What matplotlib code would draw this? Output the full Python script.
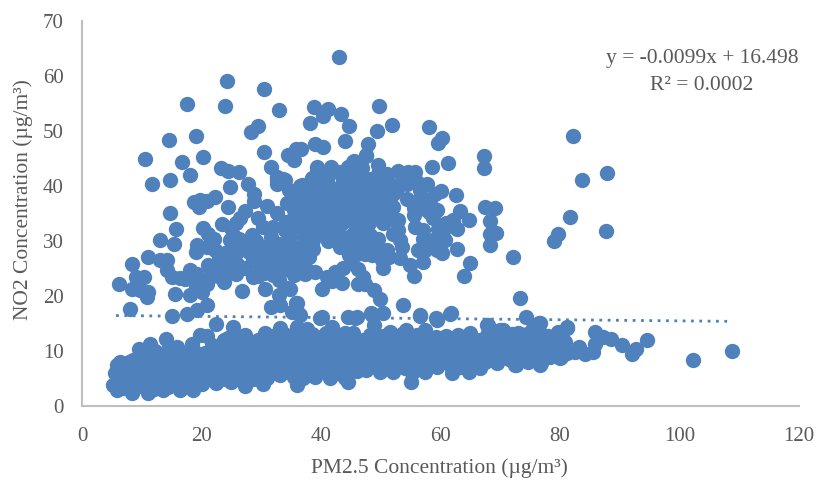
import matplotlib
matplotlib.use("Agg")
import matplotlib.pyplot as plt

plt.rcParams['font.family'] = ['Liberation Serif', 'DejaVu Serif']

# sparse points above the main band (left half)
upper_left = [
(43.07,63.46),(24.2,59.0),(30.5,57.6),(17.5,54.9),(23.9,54.5),(33.0,53.8),(38.8,54.4),(41.1,54.0),(40.4,52.8),(43.3,53.1),
(49.7,54.5),(38.2,51.5),(44.7,50.9),(51.9,51.1),(29.4,50.9),(28.3,49.8),(49.3,49.9),(19.0,49.1),(14.5,48.3),(44.1,48.1),
(47.8,47.7),(39.0,47.6),(40.3,47.1),(36.7,46.8),(35.8,46.7),(34.4,45.7),(35.4,44.7),(30.4,46.1),(10.5,44.9),(20.2,45.3),
(47.5,45.5),(45.6,44.5),(16.8,44.4),(31.6,43.5),(23.2,43.2),(24.5,42.7),(26.2,42.6),(39.4,43.5),(41.7,43.5),(44.6,43.2),
(49.6,43.8),(18.0,42.0),(52.9,42.7),(55.7,42.5),(54.6,42.5),(11.7,40.4),(14.7,41.0),(24.7,39.8),(27.7,40.3),(32.6,41.6),
(34.0,41.0),(32.6,40.4),(36.5,39.9),(37.9,40.1),(28.8,38.5),(28.8,37.3),(22.3,38.0),(20.9,37.3),(19.7,37.4),(18.7,37.1),
(19.6,36.2),(24.5,36.2),(27.2,35.5),(26.4,34.2),(25.7,33.2),(14.7,35.0),(23.4,33.0),(29.5,34.1),(15.7,32.2),(20.3,32.4),
(21.1,31.3),(22.1,30.4),(13.0,30.1),(15.4,29.4),(19.3,29.2),(19.1,28.0),(20.9,28.8),(22.3,28.3),(24.8,30.1),(26.2,30.4),
(28.4,31.0),(27.0,29.2),(25.9,28.0),(25.4,26.6),(28.7,26.6),(11.1,27.1),(13.1,26.6),(14.3,26.5),(14.3,24.7),(15.0,23.5),
(16.4,23.3),(18.1,24.7),(19.2,24.0),(21.1,25.6),(23.1,25.6),(21.7,24.1),(8.3,25.7),(9.1,23.5),(10.4,23.5),(6.2,22.2),
(8.3,21.3),(9.7,21.1),(11.1,20.7),(10.8,19.8),(8.1,17.6),(15.5,20.4),(18.1,20.1),(20.0,20.7),(20.9,18.3),(19.3,17.4),
(17.5,16.7),(15.0,16.4),(23.7,22.5),(26.7,20.9),(27.3,25.0),(28.7,23.5),(30.6,21.3),(34.3,21.5),(32.9,20.1),(31.7,18.0),
(33.1,18.3),(35.9,18.6),(35.1,17.1),(36.5,16.5),(32.6,35.0),(34.3,36.8),(32.0,32.5),(30.3,32.5),(31.7,30.7),(30.3,28.9),
(32.6,27.7),(34.8,30.7),(35.9,27.7),(37.1,32.5),(37.1,35.6),(35.4,35.6),(31.5,25.9),(33.7,24.7),(35.9,24.1),(37.6,24.7),
(29.8,25.3),(37.0,39.8),(32.6,41.0),(33.7,41.3),
]

# dense cloud and right-hand scatter above the main band
upper_right = [
(47.6,45.6),(45.4,44.4),(44.6,43.5),(39.4,42.5),(41.4,42.2),(49.6,42.2),(51.0,42.2),(58.6,43.5),(61.3,44.1),(67.3,45.5),
(67.3,43.3),(58.1,50.7),(60.3,48.8),(59.6,47.8),(82.2,49.1),(87.9,42.4),(83.6,41.0),(62.6,38.4),(43.7,41.3),(46.0,41.3),
(43.2,39.8),(45.4,39.8),(47.6,39.8),(48.2,40.4),(49.9,39.8),(51.5,40.4),(53.2,40.4),(56.0,40.7),(57.8,40.4),(56.6,39.2),
(57.1,37.7),(59.1,38.6),(60.0,39.1),(36.8,40.1),(38.2,40.1),(39.8,40.4),(40.4,38.6),(42.1,38.6),(43.7,38.0),(45.4,38.0),
(47.1,38.0),(48.8,38.0),(50.4,38.0),(52.1,38.6),(35.4,36.8),(37.0,36.8),(38.7,36.8),(40.4,36.5),(42.1,35.6),(43.7,36.2),
(45.4,36.2),(47.1,36.2),(48.8,36.2),(50.4,36.2),(52.1,36.2),(55.6,35.9),(55.6,34.7),(58.2,36.8),(59.4,35.6),(58.0,35.3),
(63.3,35.5),(64.7,33.8),(62.1,33.8),(62.7,32.2),(61.0,33.2),(59.6,32.2),(67.4,36.2),(69.2,35.9),(68.3,33.6),(68.3,31.3),
(69.3,31.5),(68.3,29.2),(55.7,32.5),(57.1,31.9),(57.1,30.4),(58.8,30.1),(60.8,30.1),(56.3,28.3),(57.1,26.2),(59.4,28.3),
(60.2,27.7),(62.8,28.6),(72.2,27.1),(64.9,25.9),(63.9,23.6),(52.9,33.8),(52.9,32.0),(53.2,30.1),(53.5,28.9),(53.2,26.8),
(54.9,25.6),(55.6,23.6),(50.3,33.2),(49.6,30.4),(49.0,28.9),(48.5,27.4),(51.0,28.3),(50.2,26.5),(50.4,25.0),(51.3,27.1),
(38.7,28.6),(36.5,27.1),(38.7,30.1),(36.5,28.9),(36.5,32.5),(38.2,32.0),(40.4,32.5),(42.1,31.9),(43.7,30.7),(45.4,31.3),
(47.1,32.0),(43.2,28.9),(44.9,28.9),(35.4,34.4),(37.6,34.4),(40.4,34.4),(42.6,34.4),(44.9,33.8),(47.1,34.4),(49.3,35.0),
(51.5,34.4),(35.4,28.9),(35.6,26.5),(35.4,23.8),(37.3,24.0),(39.0,24.4),(41.0,23.5),(41.8,22.6),(40.1,21.2),(43.5,22.4),
(42.3,24.4),(43.7,25.0),(45.1,25.9),(46.2,24.8),(47.1,23.5),(46.2,22.2),(47.4,22.2),(48.8,21.0),(49.8,19.5),(53.7,18.4),
(73.3,19.6),(34.8,21.3),(35.8,18.6),(36.2,16.8),(40.1,16.2),(44.6,16.2),(46.0,16.2),(48.4,16.8),(50.4,16.8),(56.5,16.5),
(59.2,15.9),(61.7,16.8),(74.3,16.2),(81.7,34.3),(79.7,31.2),(79.0,30.0),(87.7,31.7),(41.2,30.0),(46.8,29.8),
(47.3,27.6),(41.0,41.0),(54.4,37.6),(52.0,31.3),(33.8,29.5),(34.1,33.4),(31.0,36.4),
]

# extra points filling the dense cloud
cloud_fill = [
(34.6,39.2),(36.0,38.4),(38.0,38.5),(39.0,39.6),(41.2,40.0),(42.5,37.2),(44.5,37.0),(46.3,37.2),(48.0,37.0),(49.6,37.2),
(51.2,37.2),(52.8,39.5),(41.2,37.5),(39.3,37.8),(37.2,37.8),(35.8,33.0),(38.9,33.3),(39.7,35.4),(41.3,35.6),(41.3,33.3),
(43.5,33.2),(44.6,35.2),(46.0,35.3),(46.2,33.2),(48.0,33.2),(48.0,35.3),(50.2,35.1),(51.0,33.8),(34.0,32.0),(34.7,28.4),
(33.5,26.6),(37.2,30.8),(39.2,31.2),(41.0,31.3),(42.3,30.2),(44.6,30.0),(46.3,30.8),(48.2,31.0),(38.0,27.0),(37.0,25.8),
(34.3,26.0),(33.0,29.5),(32.0,29.3),(31.0,27.4),(29.4,27.7),(29.2,30.0),(27.9,27.9),(24.0,27.7),(23.0,27.0),(24.3,24.8),
(25.8,24.0),(26.0,25.8),(22.7,23.6),(20.2,22.9),(21.0,22.2),(19.0,21.8),(17.2,23.0),(18.8,23.2),(33.0,22.8),(31.9,23.7),
(30.5,24.1),(29.4,23.6),(24.9,32.3),(25.3,31.0),(56.2,37.2),(57.8,35.7),(58.7,34.2),(60.5,31.7),(58.3,29.0),(57.4,28.4),
(59.9,29.1),(46.0,27.6),(44.7,27.5),(46.5,42.6),(43.0,42.5),(41.0,42.0),(38.5,41.5),(50.2,41.3),(48.4,41.2),(54.4,40.4),
(45.0,42.3),(46.8,43.3),(53.8,41.6),
]

# upper and lower outline of the main band
band_edge = [
(6.4,8.0),(9.6,10.4),(11.4,11.3),(14.0,12.1),(15.96,10.7),(18.4,11.3),(19.7,12.9),(20.9,12.6),(22.5,14.9),(25.3,14.4),
(23.7,12.0),(27.3,12.9),(30.6,13.2),(33.1,14.1),(35.9,14.4),(37.6,14.0),(39.8,15.9),(41.8,14.4),(44.0,13.2),(5.8,2.9),
(8.3,2.4),(11.1,2.25),(13.6,2.85),(16.4,2.85),(18.6,2.85),(22.5,4.1),(25.0,4.4),(27.3,3.6),(30.3,3.9),(33.1,5.6),
(36.0,3.8),(39.0,5.3),(41.5,5.0),(44.0,5.0),(5.5,5.9),(5.8,7.4),(5.2,3.8),(45.7,15.9),(48.6,16.5),(48.8,14.7),
(45.4,13.2),(51.6,13.5),(54.3,13.8),(56.6,16.3),(57.4,13.8),(59.4,15.6),(61.6,16.7),(61.0,12.6),(63.0,12.9),(65.0,13.2),
(67.7,14.7),(70.0,13.8),(73.0,13.2),(76.5,15.0),(78.0,12.6),(79.7,13.5),(81.2,14.4),(44.6,4.4),(47.6,6.5),(49.9,6.2),
(52.1,6.2),(55.0,4.4),(57.4,6.2),(59.4,7.1),(61.9,5.9),(64.7,6.2),(66.6,6.8),(69.4,7.7),(72.5,7.4),(76.7,7.4),
(74.7,8.0),(80.0,8.6),(78.3,8.9),
]

# right-hand tail of the band
band_tail = [
(94.6,12.0),(92.8,10.4),(92.1,9.4),(90.4,11.0),(88.6,12.2),(87.2,12.5),(85.8,13.5),(85.8,11.3),(85.5,9.8),(84.2,9.4),
(83.2,10.7),(82.5,9.8),(81.1,14.2),(79.7,13.1),(76.6,15.0),(102.2,8.4),(108.8,10.0),(80.2,8.9),(76.9,7.7),(72.6,7.4),
(68.0,14.7),(70.5,13.8),(73.3,13.1),(77.8,12.5),
]

# interior of the band
band_fill = [
(7.2,4.2),(8.9,6.4),(7.8,8.0),(10.4,4.6),(10.8,7.5),(12.4,5.2),(13.0,8.6),(12.2,10.0),(14.9,5.4),(15.2,8.0),
(16.8,6.1),(17.0,9.4),(19.1,5.0),(19.3,7.6),(18.7,9.9),(21.0,5.9),(21.4,8.5),(21.8,11.0),(23.2,6.4),(23.6,9.0),
(25.1,6.8),(25.6,9.5),(25.9,11.9),(27.4,5.9),(27.8,8.3),(28.2,10.9),(29.6,6.4),(29.9,8.9),(30.6,11.2),(31.8,7.0),
(32.2,9.4),(32.9,11.8),(34.2,7.1),(34.5,9.7),(35.0,12.2),(36.4,6.3),(36.8,8.9),(37.2,11.5),(38.6,7.5),(39.0,10.0),
(39.4,12.5),(40.8,7.2),(41.2,9.6),(41.5,12.1),(43.0,7.4),(43.3,10.0),(43.6,11.9),(45.2,7.0),(45.6,9.3),(45.9,11.8),
(47.4,8.5),(47.8,10.8),(48.2,12.9),(49.6,8.4),(50.0,10.6),(50.3,12.6),(51.9,8.2),(52.2,10.3),(52.5,12.3),(54.1,6.9),
(54.4,9.1),(54.8,11.6),(56.2,8.0),(56.6,10.1),(57.0,12.1),(58.4,8.7),(58.8,10.7),(59.2,12.5),(60.6,8.0),(61.0,10.3),
(62.8,8.2),(63.2,10.5),(64.9,8.3),(65.3,10.9),(66.9,8.8),(67.4,11.0),(67.8,12.8),(69.2,9.6),(69.6,11.7),(71.3,9.4),
(71.7,11.6),(73.5,9.4),(73.8,11.4),(75.6,9.5),(76.0,11.5),(77.5,9.6),(78.0,11.0),(79.3,10.5),(80.9,11.5),(81.2,9.6),
(6.6,5.4),(6.8,3.2),(8.2,4.8),(8.6,8.3),(9.5,3.6),(9.8,8.9),(11.3,3.6),(11.6,6.0),(11.0,9.1),(13.4,4.2),
(13.8,6.9),(14.2,10.0),(15.8,4.2),(16.2,7.4),(16.0,9.3),(17.8,4.1),(18.1,6.9),(18.3,8.7),(20.0,3.9),(20.3,6.8),
(20.6,9.6),(22.3,5.2),(22.6,7.3),(22.9,10.1),(24.3,5.5),(24.6,7.8),(24.9,10.6),(24.5,12.4),(26.4,4.9),(26.7,7.2),
(27.0,10.0),(28.6,4.8),(28.9,7.4),(29.2,9.8),(29.5,12.0),(30.9,5.1),(31.2,8.0),(31.5,10.2),(31.9,12.7),(33.2,6.8),
(33.5,8.5),(33.8,10.6),(34.1,12.9),(35.4,5.2),(35.7,7.9),(36.0,10.6),(36.3,13.0),(37.7,6.1),(38.0,8.2),(38.3,10.8),
(38.5,13.0),(40.0,6.3),(40.3,8.4),(40.6,11.0),(40.9,13.2),(42.2,6.2),(42.5,8.6),(42.8,10.9),(42.9,12.8),(44.3,6.4),
(44.6,8.6),(44.9,10.6),(45.1,12.3),(46.5,7.7),(46.8,9.9),(47.1,12.0),(48.8,7.5),(49.1,9.6),(49.4,11.7),(50.9,7.4),
(51.2,9.5),(51.5,11.5),(53.0,7.6),(53.3,9.6),(53.6,11.8),(53.5,13.0),(55.2,6.0),(55.5,8.3),(55.8,10.9),(56.0,12.9),
(57.5,7.4),(57.9,9.5),(58.2,11.5),(59.7,8.4),(60.0,10.0),(60.3,12.0),(61.7,7.3),(62.0,9.3),(62.3,11.5),(63.9,7.4),
(64.2,9.4),(64.5,11.9),(66.0,7.8),(66.3,9.8),(66.6,12.0),(68.1,8.6),(68.4,10.4),(68.7,12.6),(70.3,9.0),(70.6,10.6),
(70.9,12.6),(72.5,8.7),(72.8,10.5),(72.9,12.3),(74.6,9.4),(74.9,10.8),(75.0,12.4),(76.6,8.8),(76.9,10.5),(77.1,12.9),
(78.7,9.9),(80.0,10.0),(80.3,12.5),(75.4,14.2),(72.0,13.0),
]

# further points that close the gaps inside the band
band_gaps = [
(7.0,6.3),(9.7,5.5),(9.4,7.3),(12.0,3.0),(12.3,7.1),(14.4,3.4),(14.6,6.7),(15.4,9.9),(17.4,4.9),(17.6,8.0),
(19.8,8.6),(20.7,4.8),(21.9,6.7),(21.9,9.5),(23.9,4.9),(24.0,7.0),(24.2,10.0),(25.9,5.9),(26.1,8.4),(26.4,11.0),
(28.1,6.6),(28.4,9.2),(27.5,11.9),(30.4,7.2),(30.6,9.4),(29.0,11.0),(32.4,6.0),(32.7,8.2),(32.5,10.6),(34.8,6.2),
(35.0,8.4),(35.3,11.1),(37.0,5.1),(37.3,7.2),(37.5,9.6),(37.7,12.4),(39.3,6.0),(39.5,8.9),(39.8,11.5),(41.5,6.2),
(41.8,8.4),(41.9,10.4),(43.4,5.8),(43.8,8.1),(44.1,10.8),(46.0,6.4),(46.2,8.6),(46.4,10.9),(47.8,7.0),(48.1,9.2),
(48.5,11.0),(50.3,7.0),(50.6,9.1),(50.9,11.0),(52.4,7.0),(52.6,9.3),(52.9,11.0),(54.6,7.9),(54.9,10.2),(55.2,12.4),
(56.8,6.9),(57.2,9.0),(57.6,11.0),(59.0,7.6),(59.2,9.8),(59.6,11.3),(61.2,8.7),(61.4,11.2),(63.2,7.0),(63.5,9.1),
(63.8,11.4),(65.4,7.2),(65.6,9.3),(65.9,11.8),(67.4,8.0),(67.8,9.8),(69.4,8.8),(69.8,10.8),(69.9,12.7),(71.5,8.5),
(72.0,10.3),(71.9,12.2),(73.9,8.8),(74.2,10.6),(74.4,13.0),(75.9,8.5),(76.3,10.2),(76.1,13.0),(77.9,9.0),(78.9,11.8),
]

trend_x = [5.7, 108.4]
trend_y = [16.4, 15.35]

x_ticks = [0, 20, 40, 60, 80, 100, 120]
y_ticks = [0, 10, 20, 30, 40, 50, 60, 70]

BLUE = '#4f81bd'
GRAY = '#595959'

all_points = upper_left + upper_right + cloud_fill + band_edge + band_tail + band_fill + band_gaps
xs = [p[0] for p in all_points]
ys = [p[1] for p in all_points]

fig = plt.figure(figsize=(8.22, 4.86), dpi=100)
W, H = 822, 486
ax = fig.add_axes([82 / W, 1 - 405.7 / H, (799 - 82) / W, (405.7 - 21) / H])

ax.scatter(xs, ys, s=122, color=BLUE, linewidths=0, clip_on=False, zorder=3)
ax.plot(trend_x, trend_y, color=BLUE, lw=2.0, linestyle=(0, (1, 2.0)),
        dash_capstyle='butt', zorder=2)

ax.set_xlim(0, 120)
ax.set_ylim(0, 70)
ax.set_xticks(x_ticks)
ax.set_yticks(y_ticks)
ax.tick_params(axis='both', length=0, labelsize=15, labelcolor=GRAY)
ax.tick_params(axis='x', pad=15)
ax.tick_params(axis='y', pad=13)
for side in ('top', 'right'):
    ax.spines[side].set_visible(False)
for side in ('left', 'bottom'):
    ax.spines[side].set_color('#bfbfbf')
    ax.spines[side].set_linewidth(1.5)

fig.text(439 / W, 1 - 468 / H, 'PM2.5 Concentration (µg/m³)', ha='center', va='center',
         fontsize=15.5, color=GRAY)
fig.text(23 / W, 1 - 200 / H, 'NO2 Concentration (µg/m³)', rotation=90, ha='center', va='center',
         fontsize=15.5, color=GRAY)
fig.text(702 / W, 1 - 58 / H, 'y = -0.0099x + 16.498', ha='center', va='center',
         fontsize=15.5, color=GRAY)
fig.text(702 / W, 1 - 86 / H, 'R² = 0.0002', ha='center', va='center',
         fontsize=15.5, color=GRAY)

fig.savefig('out.png', dpi=100)
